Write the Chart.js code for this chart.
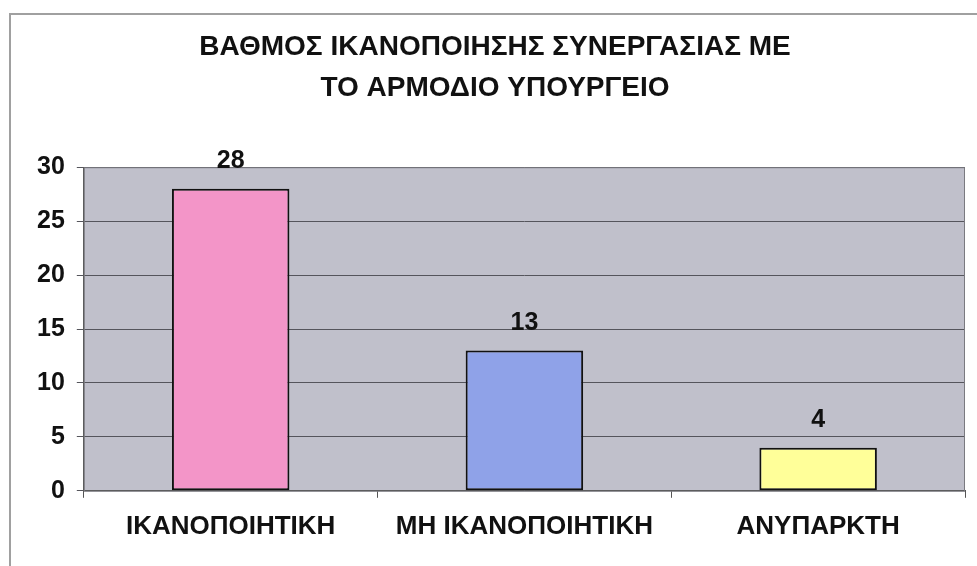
<!DOCTYPE html>
<html>
<head>
<meta charset="utf-8">
<script src="https://cdn.jsdelivr.net/npm/chart.js@4"></script>
<style>
  html, body { margin: 0; padding: 0; background: #fff; }
  .wrap { position: relative; width: 977px; height: 566px; }
  .frame { position: absolute; left: 9px; top: 13px; right: 0; bottom: 0;
           border-left: 2px solid #a0a0a0; border-top: 2px solid #a0a0a0; pointer-events: none; }
  canvas { position: absolute; left: 0; top: 0; }
</style>
</head>
<body>
<div class="wrap">
  <canvas id="c" width="977" height="566"></canvas>
  <div class="frame"></div>
</div>
<script>
/* données */
const categories = ["ΙΚΑΝΟΠΟΙΗΤΙΚΗ", "ΜΗ ΙΚΑΝΟΠΟΙΗΤΙΚΗ", "ΑΝΥΠΑΡΚΤΗ"];
const values = [28, 13, 4];
const barColors = ["#f395c8", "#8fa2e8", "#ffff99"];
const titleLines = ["ΒΑΘΜΟΣ ΙΚΑΝΟΠΟΙΗΣΗΣ ΣΥΝΕΡΓΑΣΙΑΣ ΜΕ", "ΤΟ ΑΡΜΟΔΙΟ ΥΠΟΥΡΓΕΙΟ"];
const yMax = 30, yStep = 5;

const FONT = "'Liberation Sans', Arial, sans-serif";
Chart.defaults.font.family = FONT;
Chart.defaults.color = "#111";

// fond gris de la zone de tracé + cadre
const plotArea = {
  id: "plotArea",
  beforeDraw(chart) {
    const { ctx, chartArea: a } = chart;
    ctx.save();
    ctx.fillStyle = "#c0c0cb";
    ctx.fillRect(a.left, a.top, a.right - a.left, a.bottom - a.top);
    ctx.restore();
  },
  beforeDatasetsDraw(chart) {
    const { ctx, chartArea: a } = chart;
    ctx.save();
    ctx.strokeStyle = "#7a7a80";
    ctx.lineWidth = 1;
    ctx.strokeRect(a.left + 0.5, a.top + 0.5, a.right - a.left - 1, a.bottom - a.top);
    ctx.restore();
  },
};

// valeurs au-dessus des barres
const barLabels = {
  id: "barLabels",
  afterDatasetsDraw(chart) {
    const { ctx } = chart;
    const meta = chart.getDatasetMeta(0);
    ctx.save();
    ctx.font = `bold 25px ${FONT}`;
    ctx.fillStyle = "#111";
    ctx.textAlign = "center";
    ctx.textBaseline = "alphabetic";
    meta.data.forEach((bar, i) => {
      ctx.fillText(String(values[i]), bar.x, bar.y - 21);
    });
    ctx.restore();
  },
};

new Chart(document.getElementById("c"), {
  type: "bar",
  data: {
    labels: categories,
    datasets: [{
      data: values,
      backgroundColor: barColors,
      borderColor: "#111",
      borderWidth: 2,
      borderSkipped: false,
      barPercentage: 0.4,
      categoryPercentage: 1,
    }],
  },
  options: {
    responsive: false,
    animation: false,
    layout: { padding: { left: 25, right: 12, top: 0, bottom: 11 } },
    plugins: {
      legend: { display: false },
      tooltip: { enabled: false },
      title: {
        display: true,
        text: titleLines,
        color: "#111",
        font: { size: 28, weight: "bold", lineHeight: 1.45 },
        padding: { top: 27, bottom: 59 },
      },
    },
    scales: {
      x: {
        grid: { drawOnChartArea: false, drawTicks: true, tickLength: 7, color: "#555" },
        border: { color: "#555", width: 1 },
        ticks: { font: { size: 26, weight: "bold" }, color: "#111", padding: 13 },
      },
      y: {
        min: 0, max: yMax,
        grid: { color: "#55555c", tickLength: 7, lineWidth: 1 },
        border: { color: "#555", width: 1 },
        ticks: { stepSize: yStep, font: { size: 25, weight: "bold" }, color: "#111", padding: 12 },
      },
    },
  },
  plugins: [plotArea, barLabels],
});
</script>
</body>
</html>
